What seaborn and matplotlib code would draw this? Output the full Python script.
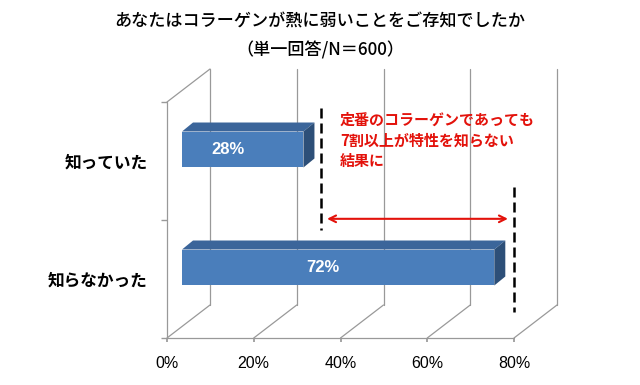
import matplotlib
matplotlib.use('Agg')
import matplotlib.pyplot as plt
import seaborn as sns
from matplotlib.patches import Polygon
from matplotlib.transforms import offset_copy, IdentityTransform

# data
categories = ['知っていた', '知らなかった']
values = [28, 72]
value_labels = ['28%', '72%']
x_ticks = [0, 20, 40, 60, 80]
x_tick_labels = ['0%', '20%', '40%', '60%', '80%']
title_1 = 'あなたはコラーゲンが熱に弱いことをご存知でしたか'
title_2 = '（単一回答/N＝600）'
note = '定番のコラーゲンであっても\n7割以上が特性を知らない\n結果に'

sns.set_theme(style='white')
plt.rcParams['font.family'] = ['Noto Sans CJK JP', 'DejaVu Sans']

front_c = '#4a7ebb'
top_c = '#3b659a'
side_c = '#2d4f78'
grid_c = '#999999'
red = '#e3120b'

fig = plt.figure(figsize=(6.4, 3.85), dpi=100)
fig.patch.set_facecolor('white')
ax = fig.add_axes([167 / 640, 47 / 385, 347 / 640, 236 / 385])

# pseudo-3D depth vectors in pixels (wall depth, bar plane, bar thickness)
wall_d = (43, 33)
bar_off = (15, 11.5)
bar_d = (11, 9)

sns.barplot(x=values, y=categories, orient='h', color=front_c, width=0.305,
            saturation=1, ax=ax, zorder=3)
ax.set_xlim(0, 80)
ax.set_ylim(1.5, -0.5)
ax.set_xlabel('')
ax.set_ylabel('')

back = offset_copy(ax.transData, fig=fig, x=wall_d[0], y=wall_d[1], units='dots')
bar_tr = offset_copy(ax.transData, fig=fig, x=bar_off[0], y=bar_off[1], units='dots')


def px_line(a, b):
    ax.add_line(plt.Line2D([a[0], b[0]], [a[1], b[1]], color=grid_c, lw=0.9,
                           transform=IdentityTransform(), zorder=1, clip_on=False))


# back wall gridlines and floor diagonals
for t in x_ticks:
    ax.plot([t, t], [1.5, -0.5], color=grid_c, lw=0.9, transform=back, clip_on=False, zorder=1)
    px_line(ax.transData.transform((t, 1.5)), back.transform((t, 1.5)))
# left wall: front edge and top edge
px_line(ax.transData.transform((0, 1.5)), ax.transData.transform((0, -0.5)))
px_line(ax.transData.transform((0, -0.5)), back.transform((0, -0.5)))
# front floor edge
px_line(ax.transData.transform((0, 1.5)), ax.transData.transform((80, 1.5)))

# bars: shift front faces, add top and side faces
for p, lab, v in zip(ax.patches, value_labels, values):
    p.set_transform(bar_tr)
    p.set_edgecolor('none')
    x0, y0, w, h = p.get_x(), p.get_y(), p.get_width(), p.get_height()
    pts = bar_tr.transform([(x0, y0), (x0 + w, y0 + h)])
    L, R = min(pts[:, 0]), max(pts[:, 0])
    B, T = min(pts[:, 1]), max(pts[:, 1])
    dx, dy = bar_d
    top = Polygon([(L, T), (R, T), (R + dx, T + dy), (L + dx, T + dy)],
                  closed=True, facecolor=top_c, edgecolor='none',
                  transform=IdentityTransform(), zorder=3, clip_on=False)
    side = Polygon([(R, B), (R, T), (R + dx, T + dy), (R + dx, B + dy)],
                   closed=True, facecolor=side_c, edgecolor='none',
                   transform=IdentityTransform(), zorder=3, clip_on=False)
    ax.add_patch(top)
    ax.add_patch(side)
    ax.text(v / 2, y0 + h / 2, lab, transform=offset_copy(ax.transData, fig=fig, x=0, y=bar_off[1], units='dots'),
            ha='center', va='center', color='white', fontsize=12, fontweight='bold',
            family=['Liberation Sans', 'DejaVu Sans'], zorder=4)

# axes styling
for s in ax.spines.values():
    s.set_visible(False)
ax.set_xticks(x_ticks)
ax.set_xticklabels(x_tick_labels, family=['Liberation Sans', 'DejaVu Sans'])
ax.tick_params(axis='x', length=3, color=grid_c, labelsize=11.5, pad=10, bottom=True,
               labelcolor='black')
ax.set_yticks([0, 1])
ax.set_yticklabels(categories, fontsize=12, fontweight='bold', color='black')
ax.set_yticks([-0.5, 0.5, 1.5], minor=True)
ax.tick_params(axis='y', which='major', length=0, pad=14)
ax.tick_params(axis='y', which='minor', length=4, color=grid_c, left=True)
ax.grid(False)
ax.set_facecolor('none')

# annotation: dashed guides, arrow and note
ax.plot([35.5, 35.5], [-0.45, 0.585], color='black', lw=1.8, ls=(0, (4, 2)), clip_on=False, zorder=5)
ax.plot([80, 80], [0.22, 1.28], color='black', lw=1.8, ls=(0, (4, 2)), clip_on=False, zorder=5)
ax.annotate('', xy=(36.9, 0.49), xytext=(78.6, 0.49),
            arrowprops=dict(arrowstyle='<->', color=red, lw=1.5, shrinkA=0, shrinkB=0,
                            mutation_scale=12), zorder=5)
ax.text(39.9, -0.42, note, color=red, fontsize=10.8, fontweight='bold',
        ha='left', va='top', linespacing=1.38, zorder=5)

fig.text(0.5, 1 - 22 / 385, title_1, ha='center', va='center', fontsize=12.3,
         fontweight='medium', color='black')
fig.text(0.5, 1 - 50 / 385, title_2, ha='center', va='center', fontsize=12.3,
         fontweight='medium', color='black')

fig.savefig('out.png', dpi=100, facecolor='white')
